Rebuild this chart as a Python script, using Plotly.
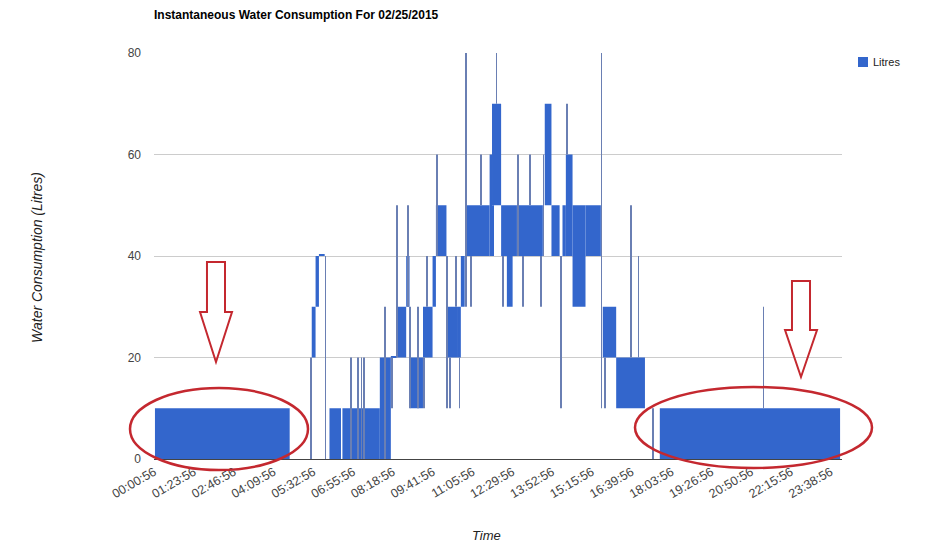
import plotly.graph_objects as go

# page body adds an 8px margin, so work in reference px and shift back
PAGE_PAD = 8
W, H = 934 - PAGE_PAD, 559 - PAGE_PAD
ML, MT = 154 - PAGE_PAD, 53 - PAGE_PAD
PLOT_W, PLOT_H = 688, 406
MR, MB = W - ML - PLOT_W, H - MT - PLOT_H

# one sample per logged minute
N_SAMPLES = 1435
tick_rows = [0, 83, 166, 249, 332, 415, 498, 581, 664, 747,
             830, 913, 996, 1079, 1162, 1245, 1328, 1411]
tick_labels = ["00:00:56", "01:23:56", "02:46:56", "04:09:56", "05:32:56",
               "06:55:56", "08:18:56", "09:41:56", "11:05:56", "12:29:56",
               "13:52:56", "15:15:56", "16:39:56", "18:03:56", "19:26:56",
               "20:50:56", "22:15:56", "23:38:56"]

# runs of samples: [start, end) and the range (litres) the reading toggles within
band_start = [2, 329, 337, 344, 366, 393, 412, 471, 494, 508, 526, 535, 561, 581,
              588, 612, 634, 640, 651, 700, 705, 705, 724, 736, 760, 815, 829,
              852, 859, 873, 900, 936, 964, 1055]
band_end = [283, 337, 344, 356, 390, 409, 471, 494, 506, 526, 533, 561, 581, 588,
            610, 634, 640, 648, 700, 705, 724, 709, 757, 748, 811, 829, 846,
            859, 873, 900, 932, 964, 1024, 1431]
band_low = [0, 20, 30, 40, 0, 0, 0, 0, 20, 20, 30, 10, 20, 30,
            40, 20, 20, 30, 40, 40, 50, 40, 40, 30, 40, 50, 40,
            40, 40, 30, 40, 20, 10, 0]
band_high = [10, 30, 40, 40, 10, 10, 10, 20, 20, 30, 40, 20, 30, 40,
             50, 30, 30, 40, 50, 60, 70, 50, 50, 40, 50, 70, 50,
             50, 60, 50, 50, 30, 20, 10]

# single-sample jumps
spike_idx = [327, 357, 411, 425, 432, 437, 481, 496, 507, 529, 534, 550, 562,
             569, 590, 611, 617, 629, 637, 650, 661, 682, 714, 727, 758, 769,
             784, 807, 812, 848, 861, 933, 940, 994, 1010, 1040, 1271]
spike_low = [0, 0, 0, 0, 0, 0, 0, 10, 20, 30, 10, 10, 10,
             30, 40, 10, 10, 30, 10, 30, 30, 50, 70, 30, 40, 30,
             50, 30, 40, 10, 60, 10, 10, 20, 20, 0, 10]
spike_high = [20, 40, 20, 20, 20, 20, 30, 20, 50, 50, 30, 30, 20,
              40, 60, 40, 20, 40, 20, 80, 40, 60, 80, 40, 60, 40,
              60, 40, 60, 40, 70, 80, 20, 50, 40, 10, 30]

BLUE = "#3366cc"
SPIKE = "#6a7fb3"
RED = "#c4282f"
FONT = "Arial, Liberation Sans, sans-serif"
MIN_H = 0.3  # keeps flat stretches visible as a line


def px(x, y):
    """reference pixel position -> paper coords"""
    return (x - PAGE_PAD - ML) / PLOT_W, (MT + PLOT_H - (y - PAGE_PAD)) / PLOT_H


def path(points):
    pts = [px(x, y) for x, y in points]
    return "M " + " L ".join(f"{a:.4f},{b:.4f}" for a, b in pts) + " Z"


fig = go.Figure()
fig.add_trace(go.Bar(
    x=[(s + e - 1) / 2 for s, e in zip(band_start, band_end)],
    width=[e - s for s, e in zip(band_start, band_end)],
    base=band_low,
    y=[max(h - l, MIN_H) for l, h in zip(band_low, band_high)],
    marker=dict(color=BLUE, line=dict(width=0)),
    name="Litres", showlegend=False, hoverinfo="skip",
))
fig.add_trace(go.Bar(
    x=spike_idx,
    width=[1.5] * len(spike_idx),
    base=spike_low,
    y=[h - l for l, h in zip(spike_low, spike_high)],
    marker=dict(color=SPIKE, line=dict(width=0)),
    name="Litres", showlegend=False, hoverinfo="skip",
))

shapes = []
# red highlight ellipses
for x0, y0, x1, y1 in [(130, 388, 308, 470), (635, 387, 872, 468)]:
    a0, b0 = px(x0, y1)
    a1, b1 = px(x1, y0)
    shapes.append(dict(type="circle", xref="paper", yref="paper",
                       x0=a0, y0=b0, x1=a1, y1=b1,
                       line=dict(color=RED, width=2.5), layer="above"))
# down arrows
for cx, top, neck, tip in [(216, 262, 312, 362), (801, 281, 330, 377)]:
    pts = [(cx - 9, top), (cx + 9, top), (cx + 9, neck), (cx + 16, neck),
           (cx, tip), (cx - 16, neck), (cx - 9, neck)]
    shapes.append(dict(type="path", xref="paper", yref="paper", path=path(pts),
                       line=dict(color=RED, width=2), fillcolor="rgba(0,0,0,0)",
                       layer="above"))
# legend swatch
a0, b0 = px(858, 67)
a1, b1 = px(868, 57)
shapes.append(dict(type="rect", xref="paper", yref="paper", x0=a0, y0=b0, x1=a1, y1=b1,
                   fillcolor=BLUE, line=dict(width=0)))

annotations = [
    dict(text="Litres", xref="paper", yref="paper", x=px(871, 62)[0], y=px(871, 62)[1],
         xanchor="left", yanchor="middle", showarrow=False,
         font=dict(family=FONT, size=11, color="#222")),
    dict(text="<i>Water Consumption (Litres)</i>", xref="paper", yref="paper",
         x=px(37, 258)[0], y=px(37, 258)[1], textangle=-90, showarrow=False,
         xanchor="center", yanchor="middle",
         font=dict(family=FONT, size=14, color="#222")),
    dict(text="<i>Time</i>", xref="paper", yref="paper",
         x=px(486, 535)[0], y=px(486, 535)[1], showarrow=False,
         xanchor="center", yanchor="middle",
         font=dict(family=FONT, size=13, color="#222")),
]

fig.update_layout(
    width=W, height=H,
    margin=dict(l=ML, r=MR, t=MT, b=MB),
    barmode="overlay",
    plot_bgcolor="white", paper_bgcolor="white",
    showlegend=False,
    title=dict(text="<b>Instantaneous Water Consumption For 02/25/2015</b>",
               xref="paper", x=0, xanchor="left",
               yref="container", y=1 - (15 - PAGE_PAD) / H, yanchor="middle",
               font=dict(family=FONT, size=12, color="#000")),
    shapes=shapes,
    annotations=annotations,
)
fig.update_xaxes(
    range=[-0.5, N_SAMPLES - 0.5],
    tickmode="array", tickvals=tick_rows, ticktext=tick_labels,
    tickangle=-30, ticks="", showgrid=False, zeroline=False,
    showline=True, linecolor="#444", linewidth=1,
    tickfont=dict(family=FONT, size=12.5, color="#444"),
)
fig.update_yaxes(
    range=[0, 80], dtick=20, ticks="", showline=False, zeroline=False,
    gridcolor="#cccccc", gridwidth=1,
    ticklabelstandoff=12,
    tickfont=dict(family=FONT, size=12, color="#444"),
)

fig.write_html("out.html")
